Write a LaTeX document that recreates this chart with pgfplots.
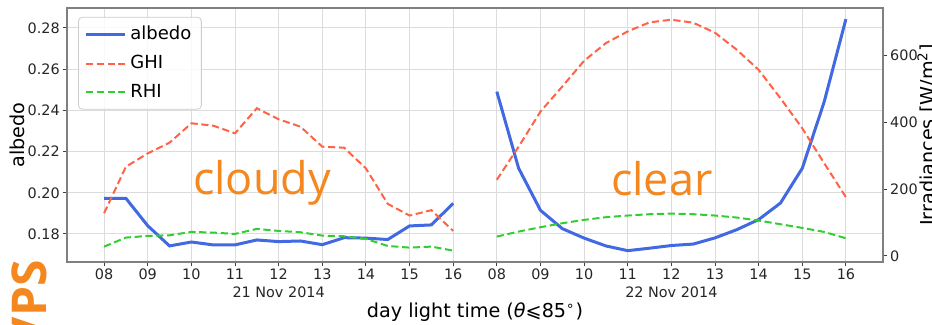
\documentclass[border=0pt]{standalone}
\usepackage{pgfplots}
\pgfplotsset{compat=1.18}
\usepackage{fontspec}
\setmainfont{DejaVu Sans}
\newfontfamily\osans{Open Sans}
\definecolor{albblue}{HTML}{4169E1}
\definecolor{ghired}{HTML}{FF6347}
\definecolor{rhigreen}{HTML}{32CD32}
\definecolor{txtorange}{HTML}{F5871F}
\definecolor{gridgray}{HTML}{DCDCDC}
\definecolor{framegray}{HTML}{808080}
\begin{document}
\begin{tikzpicture}[x=1pt,y=1pt]
\pgfplotsset{
  common/.style={
    scale only axis, width=408pt, height=127pt,
    xmin=-0.85, xmax=17.85,
    at={(0pt,0pt)}, anchor=south west,
    clip=false,
    axis line style={framegray, line width=0.6pt},
    tick style={color=black!75, line width=0.5pt},
    major tick length=2.2pt,
    tick align=outside,
    ticklabel style={font=\fontsize{7.2}{8.6}\selectfont, color=black!85, inner sep=1.2pt},
    /pgf/number format/assume math mode=true,
  }
}
\begin{axis}[common, name=ax,
  ymin=0.1664, ymax=0.2897,
  ytick={0.18,0.2,0.22,0.24,0.26,0.28},
  yticklabel style={/pgf/number format/.cd, fixed, fixed zerofill, precision=2},
  xtick={0,1,2,3,4,5,6,7,8,9,10,11,12,13,14,15,16,17},
  xticklabels={08,09,10,11,{12\\21 Nov 2014},13,14,15,16,08,09,10,11,{12\\22 Nov 2014},13,14,15,16},
  xticklabel style={align=center},
  xtick pos=left, ytick pos=left,
  grid=major, major grid style={gridgray, line width=0.5pt},
]
\addplot[albblue, line width=1.5pt] coordinates {
(0,0.1973)(0.5,0.1973)(1,0.1840)(1.5,0.1742)(2,0.1761)(2.5,0.1747)(3,0.1747)(3.5,0.1771)(4,0.1763)
(4.5,0.1766)(5,0.1748)(5.5,0.1782)(6,0.1780)(6.5,0.1773)(7,0.1839)(7.5,0.1844)(8,0.1949)};
\addplot[albblue, line width=1.5pt] coordinates {
(9,0.2491)(9.5,0.2119)(10,0.1915)(10.5,0.1826)(11,0.1780)(11.5,0.1742)(12,0.1719)(12.5,0.1731)(13,0.1744)
(13.5,0.1751)(14,0.1781)(14.5,0.1821)(15,0.1870)(15.5,0.1950)(16,0.2119)(16.5,0.2440)(17,0.2843)};
\node[font=\osans\fontsize{22.5}{27}\selectfont, color=txtorange, inner sep=0pt] at (axis cs:3.62,0.2048) {cloudy};
\node[font=\osans\fontsize{22.5}{27}\selectfont, color=txtorange, inner sep=0pt] at (axis cs:12.78,0.2069) {clear};
\end{axis}
\begin{axis}[common,
  ymin=-18, ymax=742,
  ytick={0,200,400,600},
  axis y line*=right, axis x line=none,
  ytick pos=right,
  legend style={at={(0.0135,0.965)}, anchor=north west, draw=black!20, rounded corners=2pt,
    fill=white, fill opacity=0.85, text opacity=1, font=\fontsize{9}{10.8}\selectfont,
    row sep=2.2pt, inner xsep=3pt, inner ysep=2.5pt},
  legend cell align=left,
  legend image code/.code={\draw[#1] (0pt,0pt) -- (19.5pt,0pt);},
]
\addlegendimage{albblue, line width=1.5pt}
\addlegendentry{albedo}
\addplot[ghired, line width=1pt, dash pattern=on 3.6pt off 1.8pt] coordinates {
(0,128)(0.5,267)(1,307)(1.5,339)(2,397)(2.5,390)(3,367)(3.5,442)(4,409)
(4.5,387)(5,327)(5.5,324)(6,262)(6.5,156)(7,121)(7.5,137)(8,75)};
\addlegendentry{GHI}
\addplot[ghired, line width=1pt, dash pattern=on 3.6pt off 1.8pt, forget plot] coordinates {
(9,228)(9.5,327)(10,432)(10.5,507)(11,584)(11.5,637)(12,672)(12.5,699)(13,707)
(13.5,698)(14,668)(14.5,617)(15,557)(15.5,472)(16,382)(16.5,278)(17,176)};
\addplot[rhigreen, line width=1pt, dash pattern=on 3.6pt off 1.8pt] coordinates {
(0,28)(0.5,55)(1,60)(1.5,62)(2,72)(2.5,70)(3,66)(3.5,81)(4,75)
(4.5,71)(5,61)(5.5,59)(6,51)(6.5,30)(7,25)(7.5,28)(8,16)};
\addlegendentry{RHI}
\addplot[rhigreen, line width=1pt, dash pattern=on 3.6pt off 1.8pt, forget plot] coordinates {
(9,58)(9.5,73)(10,86)(10.5,98)(11,108)(11.5,116)(12,121)(12.5,125)(13,127)
(13.5,125)(14,121)(14.5,115)(15,106)(15.5,95)(16,84)(16.5,72)(17,53)};
\end{axis}
\node[rotate=90, anchor=north, inner sep=0pt, font=\fontsize{9.6}{11}\selectfont] at (-28.5,63.5) {albedo};
\node[rotate=90, anchor=north, inner sep=0pt, font=\fontsize{9.6}{11}\selectfont] at (425,63.5) {Irradiances [W/m\textsuperscript{2}]};
\node[anchor=base, inner sep=0pt, font=\fontsize{9.6}{11}\selectfont] at (204,-28) {day light time ({\itshape θ}⩽85\textsuperscript{∘})};
\node[rotate=90, anchor=base east, inner sep=0pt, font=\osans\bfseries\fontsize{24}{28}\selectfont, color=txtorange] at (-10,1) {VPS};
\pgfresetboundingbox
\path[use as bounding box] (-33.5,-31.5) rectangle (432.5,131);
\end{tikzpicture}
\end{document}
